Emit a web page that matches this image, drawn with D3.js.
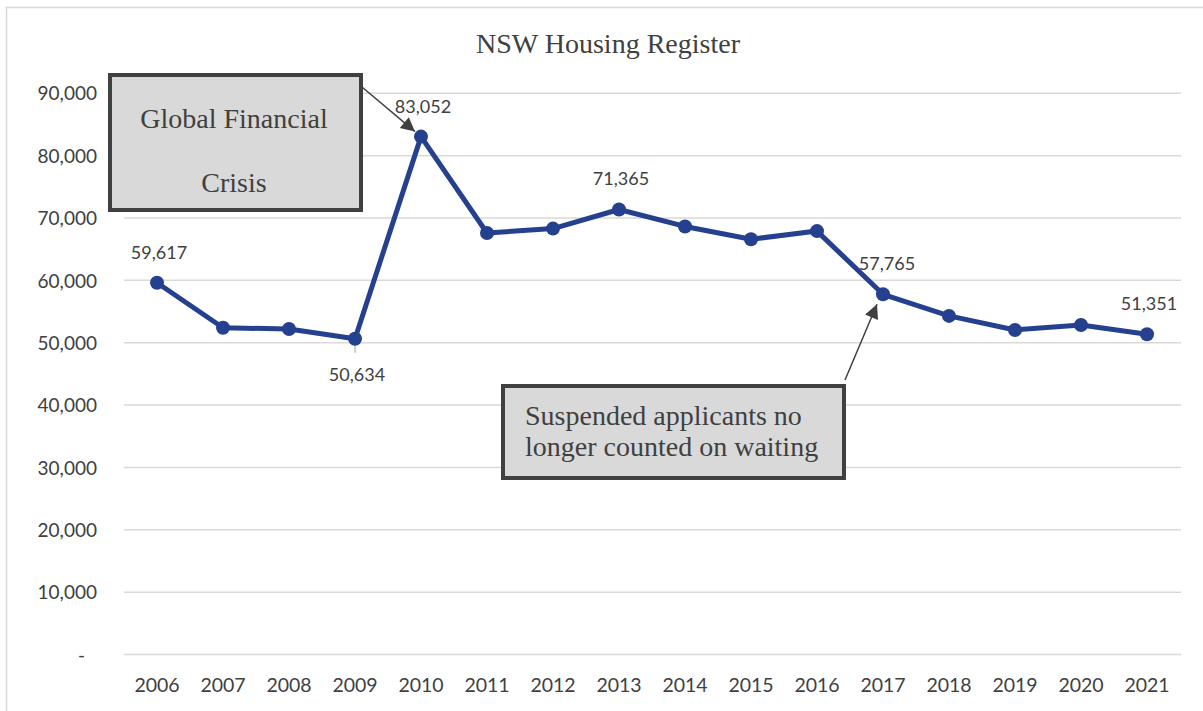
<!DOCTYPE html>
<html>
<head>
<meta charset="utf-8">
<script src="https://cdn.jsdelivr.net/npm/d3@7"></script>
<style>
  body { margin: 0; background: #fff; }
  svg { display: block; }
</style>
</head>
<body>
<div class="chart"></div>
<script>
const years = ['2006','2007','2008','2009','2010','2011','2012','2013','2014','2015','2016','2017','2018','2019','2020','2021'];
const applicants = [59617, 52400, 52200, 50634, 83052, 67600, 68300, 71365, 68650, 66600, 67900, 57765, 54300, 52050, 52850, 51351];
const yTicks = [0, 10000, 20000, 30000, 40000, 50000, 60000, 70000, 80000, 90000];
// which points get a value label, and where it sits
const labelled = {'2006': 'above', '2009': 'below', '2010': 'above', '2013': 'above', '2017': 'aboveRight', '2021': 'above'};

const width = 1203, height = 711;
const lineColor = '#25408f';
const textColor = '#404040';
const sans = 'Lato, "Open Sans", sans-serif';
const serif = '"Liberation Serif", "DejaVu Serif", serif';

const svg = d3.select('.chart').append('svg')
    .attr('width', width)
    .attr('height', height);

// chart frame (only top/left edges visible)
svg.append('rect')
    .attr('x', 6.5).attr('y', 7.5)
    .attr('width', width).attr('height', height)
    .attr('fill', 'none')
    .attr('stroke', '#d9d9d9')
    .attr('stroke-width', 1.5);

const x = d3.scaleBand()
    .domain(years)
    .range([124, 1180]);

const y = d3.scaleLinear()
    .domain([0, 90000])
    .range([654.5, 93.3]);

// gridlines
svg.append('g')
    .selectAll('line')
    .data(yTicks)
    .enter().append('line')
    .attr('x1', 124).attr('x2', 1181)
    .attr('y1', d => y(d)).attr('y2', d => y(d))
    .attr('stroke', '#d9d9d9')
    .attr('stroke-width', 1.5);

// y axis labels
const yAxis = svg.append('g')
    .attr('transform', 'translate(97,0)')
    .call(d3.axisLeft(y).tickValues(yTicks).tickSize(0).tickPadding(0)
        .tickFormat(d => d === 0 ? '-' : d3.format(',')(d)));
yAxis.select('.domain').remove();
yAxis.selectAll('text')
    .attr('fill', textColor)
    .attr('font-family', sans)
    .attr('font-size', '19px')
    .attr('dy', '0.35em')
    .attr('dx', d => d === 0 ? -12 : 0);

// x axis labels
const xAxis = svg.append('g')
    .attr('transform', 'translate(0,' + 678 + ')')
    .call(d3.axisBottom(x).tickSize(0).tickPadding(0));
xAxis.select('.domain').remove();
xAxis.selectAll('text')
    .attr('fill', textColor)
    .attr('font-family', sans)
    .attr('font-size', '19.5px')
    .attr('dy', '0.71em');

// title
svg.append('text')
    .attr('x', 608).attr('y', 53)
    .attr('text-anchor', 'middle')
    .attr('font-family', serif)
    .attr('font-size', '28px')
    .attr('fill', textColor)
    .text('NSW Housing Register');

const cx = d => x(d) + x.bandwidth() / 2;

// leader tick under 2009
svg.append('line')
    .attr('x1', cx('2009')).attr('x2', cx('2009'))
    .attr('y1', y(50634)).attr('y2', y(50634) + 14)
    .attr('stroke', '#bfbfbf')
    .attr('stroke-width', 1.5);

// series line
const line = d3.line()
    .x((d, i) => cx(years[i]))
    .y(d => y(d));

svg.append('path')
    .datum(applicants)
    .attr('d', line)
    .attr('fill', 'none')
    .attr('stroke', lineColor)
    .attr('stroke-width', 5)
    .attr('stroke-linejoin', 'round');

svg.append('g')
    .selectAll('circle')
    .data(applicants)
    .enter().append('circle')
    .attr('cx', (d, i) => cx(years[i]))
    .attr('cy', d => y(d))
    .attr('r', 7)
    .attr('fill', lineColor);

// value labels
svg.append('g')
    .selectAll('text')
    .data(years.filter(yr => labelled[yr]))
    .enter().append('text')
    .attr('x', yr => cx(yr) + (labelled[yr] === 'aboveRight' ? 4 : 2))
    .attr('y', yr => {
        const v = applicants[years.indexOf(yr)];
        if (labelled[yr] === 'below') return y(v) + 42;
        return y(v) - 24;
    })
    .attr('text-anchor', 'middle')
    .attr('font-family', sans)
    .attr('font-size', '18px')
    .attr('fill', textColor)
    .text(yr => d3.format(',')(applicants[years.indexOf(yr)]));

// arrowhead
svg.append('defs').append('marker')
    .attr('id', 'arrowhead')
    .attr('viewBox', '0 -5 10 10')
    .attr('refX', 10)
    .attr('refY', 0)
    .attr('orient', 'auto')
    .attr('markerUnits', 'userSpaceOnUse')
    .attr('markerWidth', 16)
    .attr('markerHeight', 14)
    .append('path')
    .attr('d', 'M0,-5L10,0L0,5Z')
    .attr('fill', '#404040');

// annotation: Global Financial Crisis
svg.append('line')
    .attr('x1', 362).attr('y1', 87)
    .attr('x2', cx('2010') - 6).attr('y2', y(83052) - 5)
    .attr('stroke', '#404040')
    .attr('stroke-width', 1.5)
    .attr('marker-end', 'url(#arrowhead)');

svg.append('rect')
    .attr('x', 110).attr('y', 75)
    .attr('width', 251).attr('height', 135)
    .attr('fill', '#d9d9d9')
    .attr('stroke', '#404040')
    .attr('stroke-width', 4);

svg.append('text')
    .attr('x', 234).attr('y', 128)
    .attr('text-anchor', 'middle')
    .attr('font-family', serif)
    .attr('font-size', '28px')
    .attr('fill', textColor)
    .text('Global Financial');
svg.append('text')
    .attr('x', 234).attr('y', 192)
    .attr('text-anchor', 'middle')
    .attr('font-family', serif)
    .attr('font-size', '28px')
    .attr('fill', textColor)
    .text('Crisis');

// annotation: suspended applicants
svg.append('line')
    .attr('x1', 845).attr('y1', 380)
    .attr('x2', cx('2017') - 6).attr('y2', y(57765) + 10)
    .attr('stroke', '#404040')
    .attr('stroke-width', 1.5)
    .attr('marker-end', 'url(#arrowhead)');

svg.append('rect')
    .attr('x', 503).attr('y', 386)
    .attr('width', 341).attr('height', 92)
    .attr('fill', '#d9d9d9')
    .attr('stroke', '#404040')
    .attr('stroke-width', 4);

svg.append('text')
    .attr('x', 525).attr('y', 425)
    .attr('font-family', serif)
    .attr('font-size', '28px')
    .attr('fill', textColor)
    .text('Suspended applicants no');
svg.append('text')
    .attr('x', 525).attr('y', 456)
    .attr('font-family', serif)
    .attr('font-size', '28px')
    .attr('fill', textColor)
    .text('longer counted on waiting');
</script>
</body>
</html>
